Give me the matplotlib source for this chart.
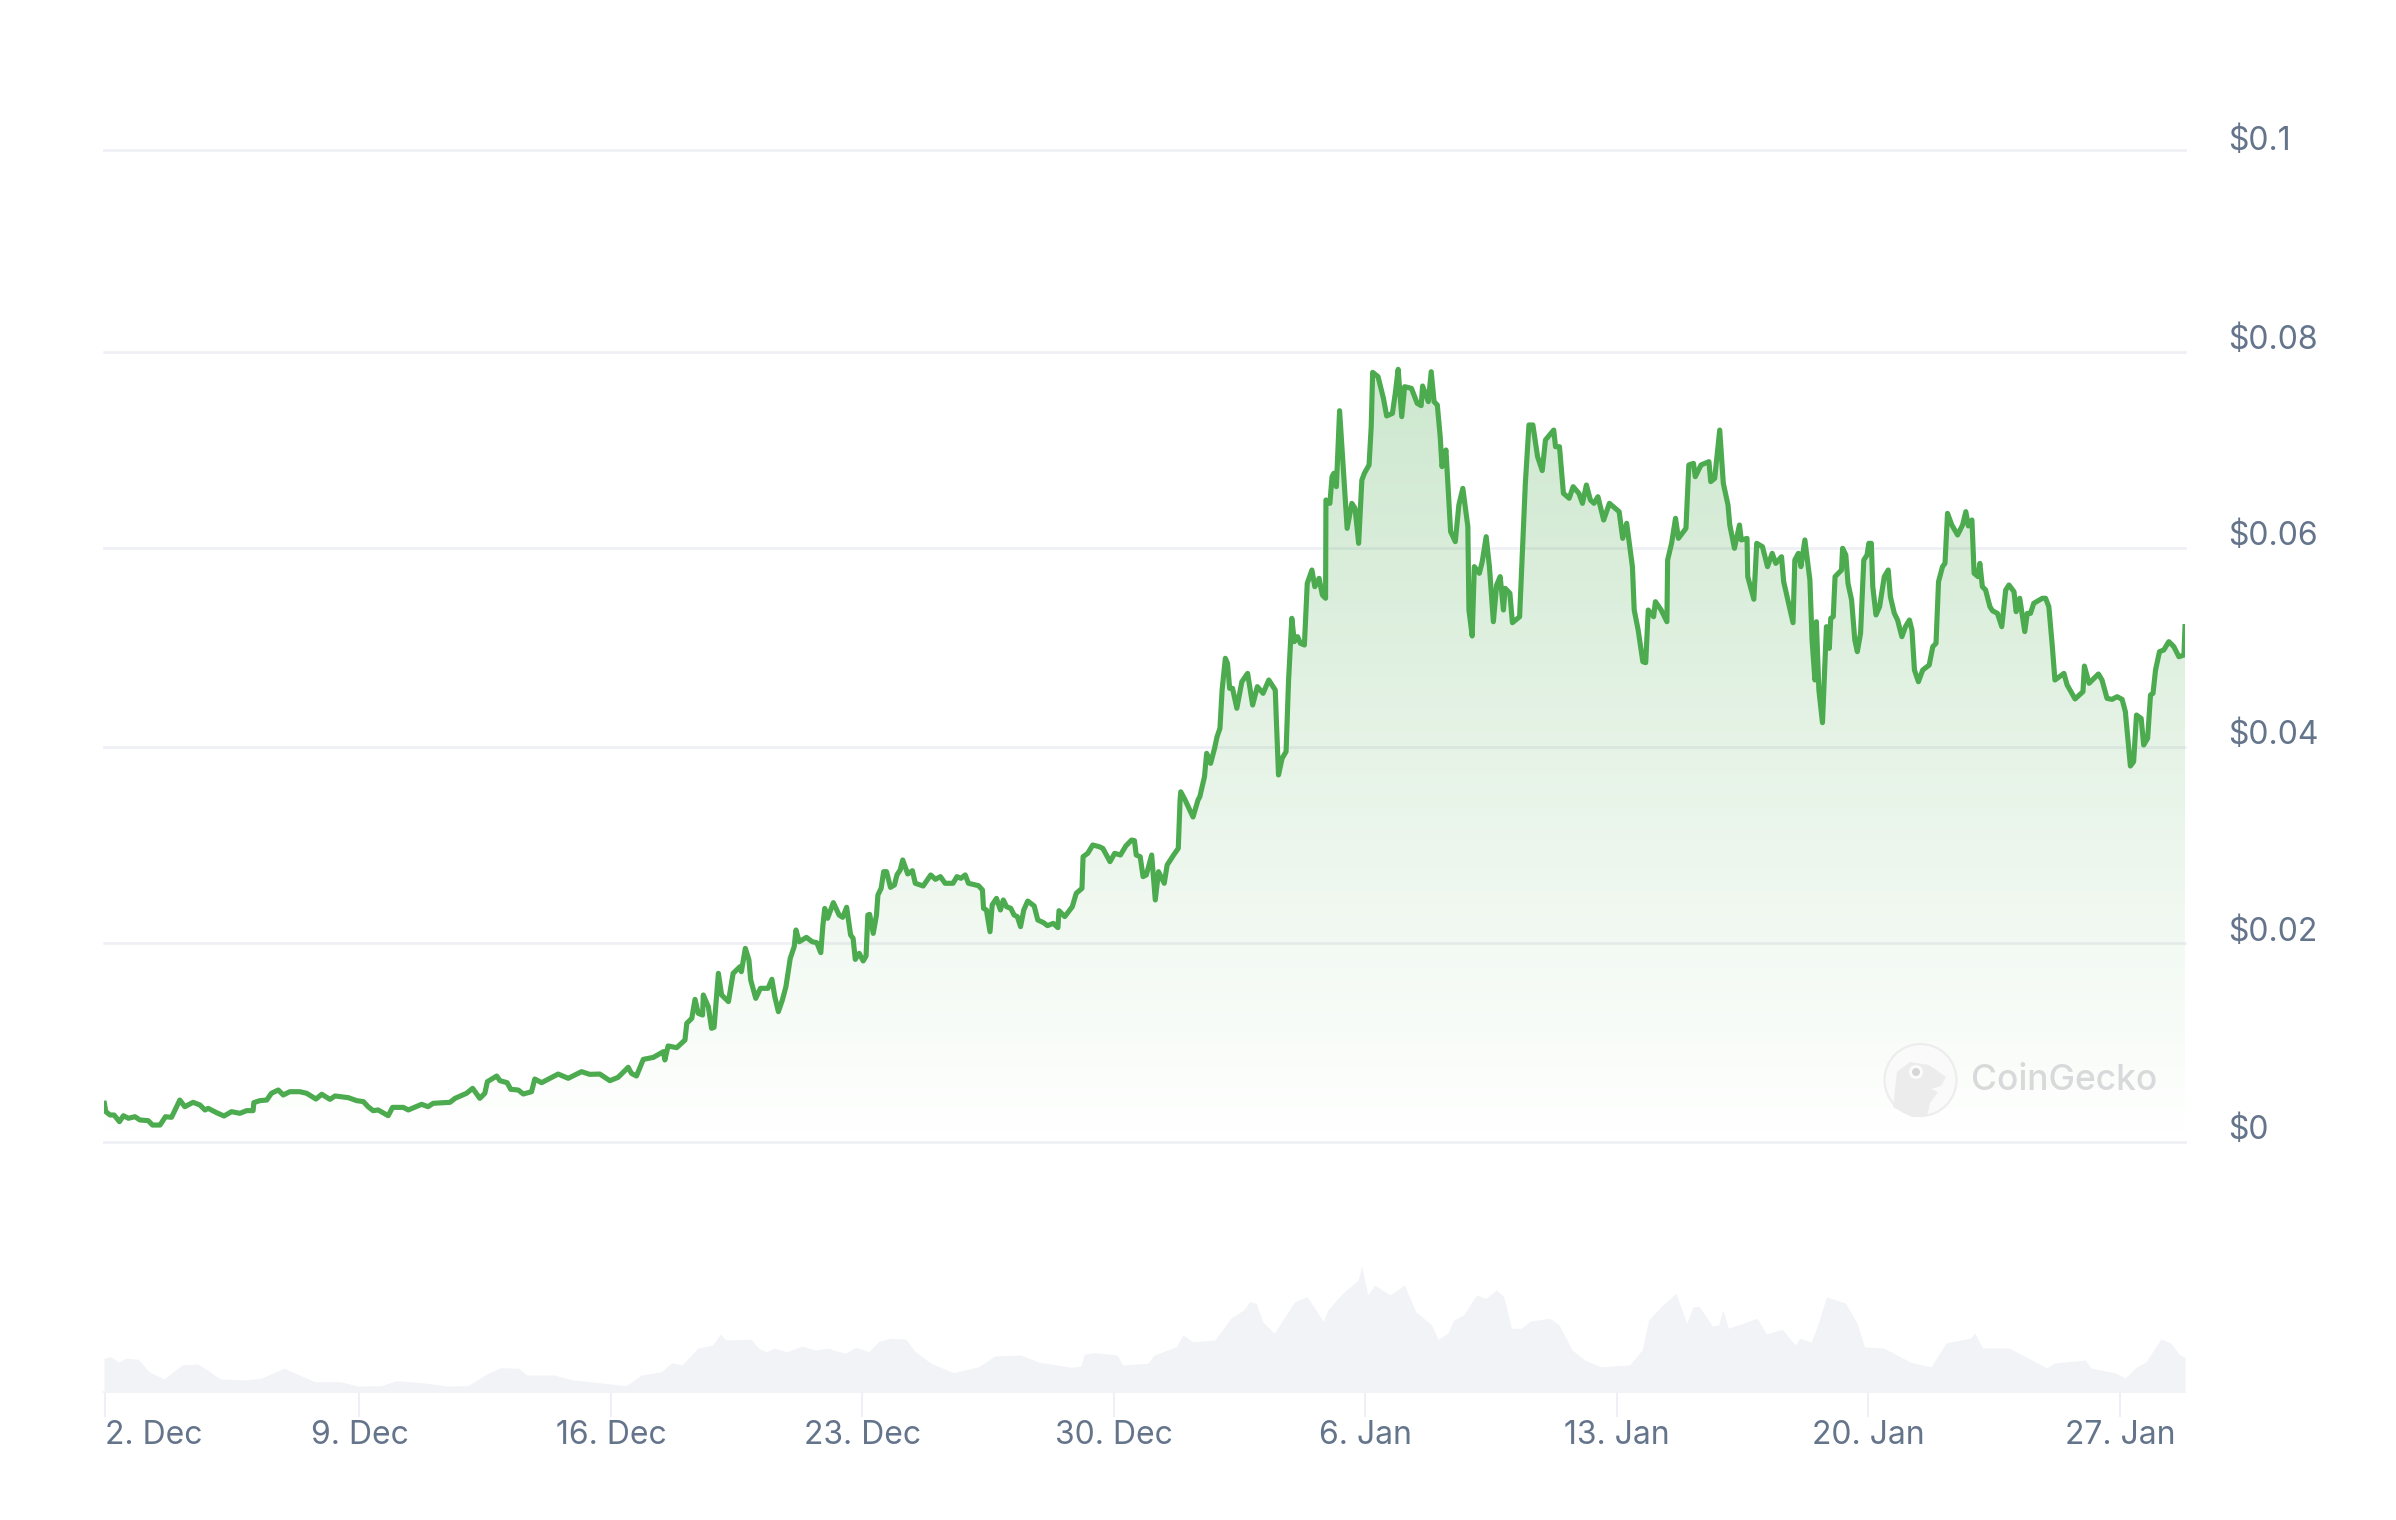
import matplotlib
matplotlib.use("Agg")
import matplotlib.pyplot as plt
import numpy as np
from matplotlib.patches import Circle, Polygon
from matplotlib.transforms import ScaledTranslation

plt.rcParams['font.family'] = ['Inter', 'DejaVu Sans']

# days after 2 Dec
days = [
    -0.10, -0.06, 0.06, 0.17, 0.32, 0.43, 0.57, 0.75, 0.89, 1.12, 1.24, 1.45, 1.60, 1.77, 2.00, 2.14, 2.37, 2.56, 2.70, 2.79,
    3.02, 3.23, 3.44, 3.67, 3.86, 4.04, 4.06, 4.23, 4.42, 4.55, 4.74, 4.88, 5.06, 5.34, 5.53, 5.79, 5.95, 6.18, 6.32, 6.69,
    6.92, 7.11, 7.24, 7.38, 7.52, 7.80, 7.92, 8.22, 8.36, 8.73, 8.91, 9.05, 9.52, 9.66, 9.98, 10.15, 10.35, 10.49, 10.56, 10.82,
    10.91, 11.11, 11.21, 11.42, 11.56, 11.79, 11.88, 12.07, 12.53, 12.81, 13.18, 13.41, 13.69, 13.97, 14.20, 14.48, 14.57, 14.71, 14.90, 15.18,
    15.46, 15.50, 15.59, 15.83, 16.06, 16.11, 16.25, 16.34, 16.43, 16.55, 16.57, 16.71, 16.80, 16.87, 16.99, 17.08, 17.27, 17.40, 17.59, 17.63,
    17.74, 17.84, 17.89, 18.03, 18.16, 18.37, 18.48, 18.56, 18.66, 18.77, 18.87, 18.99, 19.10, 19.15, 19.24, 19.44, 19.60, 19.73, 19.84, 19.90,
    19.95, 20.03, 20.19, 20.35, 20.45, 20.56, 20.67, 20.74, 20.80, 20.91, 21.02, 21.10, 21.15, 21.20, 21.30, 21.39, 21.43, 21.52, 21.59, 21.67,
    21.78, 21.89, 21.96, 22.05, 22.12, 22.26, 22.39, 22.47, 22.69, 22.90, 23.03, 23.17, 23.30, 23.52, 23.63, 23.74, 23.86, 23.95, 24.23, 24.34,
    24.37, 24.45, 24.55, 24.61, 24.73, 24.84, 24.92, 25.01, 25.13, 25.22, 25.31, 25.40, 25.49, 25.60, 25.78, 25.88, 26.04, 26.15, 26.31, 26.44,
    26.47, 26.63, 26.84, 26.95, 27.11, 27.14, 27.27, 27.41, 27.59, 27.69, 27.89, 28.02, 28.18, 28.33, 28.49, 28.57, 28.62, 28.73, 28.81, 28.90,
    29.05, 29.15, 29.24, 29.40, 29.48, 29.66, 29.79, 29.84, 29.86, 29.98, 30.20, 30.34, 30.39, 30.52, 30.58, 30.69, 30.80, 30.87, 30.95, 31.01,
    31.10, 31.16, 31.22, 31.30, 31.42, 31.56, 31.72, 31.86, 31.99, 32.15, 32.31, 32.49, 32.52, 32.58, 32.68, 32.79, 32.86, 32.95, 33.02, 33.11,
    33.19, 33.30, 33.38, 33.51, 33.59, 33.71, 33.80, 33.89, 33.90, 34.01, 34.07, 34.12, 34.19, 34.28, 34.38, 34.49, 34.62, 34.71, 34.81, 34.90,
    34.97, 35.10, 35.16, 35.20, 35.35, 35.50, 35.59, 35.75, 35.83, 35.91, 36.01, 36.09, 36.28, 36.44, 36.55, 36.59, 36.75, 36.83, 36.91, 37.00,
    37.08, 37.13, 37.24, 37.32, 37.37, 37.50, 37.60, 37.71, 37.85, 37.88, 37.97, 38.03, 38.17, 38.25, 38.36, 38.45, 38.56, 38.65, 38.75, 38.84,
    38.89, 39.02, 39.09, 39.29, 39.45, 39.55, 39.66, 39.79, 39.92, 40.01, 40.24, 40.29, 40.40, 40.51, 40.67, 40.78, 40.94, 41.04, 41.15, 41.26,
    41.36, 41.47, 41.63, 41.79, 42.06, 42.16, 42.27, 42.43, 42.48, 42.59, 42.72, 42.80, 42.87, 43.02, 43.07, 43.23, 43.39, 43.41, 43.52, 43.63,
    43.71, 43.92, 44.00, 44.13, 44.18, 44.34, 44.56, 44.61, 44.72, 44.86, 44.96, 45.09, 45.14, 45.27, 45.41, 45.46, 45.62, 45.64, 45.81, 45.89,
    46.05, 46.19, 46.32, 46.42, 46.58, 46.64, 46.90, 46.95, 47.05, 47.12, 47.23, 47.37, 47.43, 47.51, 47.55, 47.62, 47.72, 47.83, 47.91, 47.95,
    48.02, 48.07, 48.25, 48.28, 48.37, 48.43, 48.53, 48.62, 48.69, 48.78, 48.87, 48.96, 49.01, 49.08, 49.12, 49.21, 49.31, 49.44, 49.55, 49.61,
    49.72, 49.81, 49.93, 50.03, 50.14, 50.21, 50.28, 50.39, 50.51, 50.69, 50.79, 50.88, 50.95, 51.06, 51.13, 51.20, 51.32, 51.48, 51.62, 51.71,
    51.78, 51.88, 51.94, 52.05, 52.10, 52.17, 52.26, 52.38, 52.45, 52.59, 52.71, 52.82, 52.91, 53.05, 53.11, 53.21, 53.35, 53.42, 53.51, 53.60,
    53.84, 53.93, 54.02, 54.11, 54.19, 54.44, 54.53, 54.75, 54.97, 55.01, 55.14, 55.40, 55.50, 55.64, 55.78, 55.92, 56.06, 56.15, 56.29, 56.38,
    56.46, 56.59, 56.66, 56.77, 56.85, 56.92, 56.99, 57.10, 57.22, 57.36, 57.50, 57.64, 57.78, 57.81,
]

# price in thousandths of a dollar
price_milli = [
    3.90, 3.06, 2.72, 2.72, 2.05, 2.65, 2.39, 2.55, 2.22, 2.15, 1.71, 1.71, 2.55, 2.49, 4.23, 3.56, 4.00, 3.73, 3.23, 3.39,
    2.96, 2.62, 3.06, 2.89, 3.16, 3.16, 3.97, 4.17, 4.23, 4.91, 5.24, 4.74, 5.07, 5.07, 4.91, 4.33, 4.81, 4.30, 4.64, 4.47,
    4.17, 4.07, 3.56, 3.16, 3.23, 2.65, 3.49, 3.49, 3.23, 3.80, 3.56, 3.90, 4.00, 4.40, 4.91, 5.41, 4.40, 4.91, 6.08, 6.65,
    6.18, 5.98, 5.31, 5.24, 4.84, 5.07, 6.35, 5.98, 6.85, 6.42, 7.09, 6.82, 6.85, 6.18, 6.52, 7.53, 6.92, 6.65, 8.33, 8.53,
    9.11, 8.27, 9.68, 9.51, 10.28, 11.96, 12.47, 14.38, 12.97, 12.80, 14.82, 13.64, 11.46, 11.56, 17.00, 14.82, 14.15, 17.00, 17.67, 17.17,
    19.52, 18.35, 16.33, 14.48, 15.49, 15.49, 16.40, 14.65, 13.14, 14.31, 15.66, 18.51, 19.69, 21.37, 20.19, 20.63, 20.19, 20.09, 19.09, 21.88,
    23.55, 22.55, 24.13, 22.88, 22.65, 23.66, 20.87, 20.53, 18.41, 19.02, 18.25, 18.75, 22.88, 22.95, 21.03, 22.88, 24.90, 25.57, 27.25, 27.25,
    25.67, 25.91, 26.92, 27.42, 28.43, 27.02, 27.35, 26.08, 25.81, 26.92, 26.48, 26.75, 26.08, 26.08, 26.75, 26.58, 26.92, 26.08, 25.84, 25.40,
    23.55, 23.39, 21.20, 23.89, 24.56, 23.39, 24.40, 23.72, 23.55, 22.88, 22.72, 21.71, 23.39, 24.29, 23.79, 22.38, 22.11, 21.81, 22.04, 21.61,
    23.32, 22.72, 23.72, 25.07, 25.57, 28.76, 29.10, 29.94, 29.77, 29.60, 28.26, 29.10, 28.93, 29.84, 30.44, 30.38, 28.93, 28.76, 26.75, 26.92,
    28.93, 24.40, 27.25, 26.08, 27.92, 28.93, 29.60, 34.48, 35.30, 34.48, 32.76, 34.48, 34.81, 36.83, 39.18, 38.17, 39.68, 40.86, 41.70, 45.56,
    48.76, 48.25, 45.73, 45.73, 43.72, 46.40, 47.24, 44.05, 45.90, 45.23, 46.57, 45.56, 42.54, 37.00, 38.68, 39.35, 46.57, 52.79, 50.44, 50.94,
    50.27, 50.10, 56.32, 57.66, 55.98, 56.82, 55.14, 54.81, 64.72, 64.38, 67.07, 67.41, 66.06, 73.72, 68.08, 61.86, 64.38, 63.88, 60.35, 66.73,
    67.41, 68.25, 72.11, 77.59, 77.15, 74.97, 73.19, 73.45, 75.47, 77.89, 73.12, 76.14, 75.97, 74.46, 74.23, 76.21, 74.63, 77.65, 74.63, 74.29,
    71.10, 68.08, 69.76, 64.72, 61.53, 60.52, 64.22, 65.89, 62.03, 53.63, 51.01, 58.00, 57.33, 58.50, 61.02, 58.00, 52.45, 56.15, 56.99, 53.63,
    55.81, 55.31, 52.35, 52.95, 66.40, 72.28, 72.28, 69.09, 67.68, 70.77, 71.77, 70.09, 70.09, 65.39, 64.89, 66.06, 65.39, 64.38, 66.23, 64.72,
    64.38, 65.05, 62.70, 64.38, 63.54, 60.85, 62.37, 58.00, 53.63, 51.61, 48.42, 48.32, 53.63, 52.95, 54.47, 53.63, 52.45, 58.67, 60.35, 62.87,
    60.85, 61.86, 68.25, 68.41, 67.07, 68.25, 68.58, 66.57, 66.90, 71.77, 66.40, 64.22, 62.20, 59.85, 62.20, 60.69, 60.85, 56.99, 54.71, 60.35,
    60.01, 58.00, 59.34, 58.33, 59.00, 56.49, 52.35, 58.67, 59.34, 58.00, 60.69, 56.65, 50.60, 46.57, 52.45, 45.56, 42.27, 51.95, 49.76, 52.79,
    52.96, 56.99, 57.66, 59.85, 59.17, 56.32, 54.64, 50.60, 49.43, 51.28, 58.67, 59.17, 60.35, 60.35, 55.98, 53.13, 53.97, 56.99, 57.66, 54.97,
    53.29, 52.62, 50.94, 51.95, 52.62, 51.61, 47.58, 46.40, 47.58, 48.08, 49.93, 50.27, 56.48, 57.99, 58.33, 63.37, 62.20, 61.19, 62.20, 63.54,
    62.10, 62.70, 57.33, 56.99, 58.33, 55.98, 55.65, 53.97, 53.56, 53.29, 51.95, 55.65, 56.15, 55.48, 53.46, 54.81, 51.45, 53.29, 53.29, 54.30,
    54.81, 54.81, 53.97, 50.27, 46.57, 47.24, 46.07, 44.66, 45.40, 47.98, 46.24, 47.18, 46.57, 44.72, 44.62, 44.89, 44.62, 43.38, 37.90, 38.34,
    43.04, 42.70, 40.02, 40.69, 45.06, 45.23, 47.58, 49.43, 49.60, 50.44, 49.93, 48.92, 49.09, 51.95,
]

vol_days = [
    -0.11, 0.07, 0.29, 0.50, 0.85, 1.14, 1.56, 2.06, 2.49, 2.77, 3.13, 3.77, 4.26, 4.90, 5.33, 5.75, 6.47, 6.96, 7.60, 8.03,
    8.74, 9.45, 10.01, 10.58, 10.94, 11.44, 11.65, 12.43, 12.93, 13.42, 14.42, 14.85, 15.41, 15.69, 15.98, 16.41, 16.83, 17.05, 17.19, 17.90,
    18.11, 18.32, 18.54, 18.89, 19.32, 19.68, 20.03, 20.53, 20.81, 21.17, 21.45, 21.76, 22.20, 22.47, 22.91, 23.53, 24.24, 24.68, 25.39, 25.93,
    26.81, 27.08, 27.17, 27.44, 28.09, 28.24, 28.94, 29.12, 29.74, 29.92, 30.19, 30.81, 31.25, 31.61, 31.78, 31.96, 32.14, 32.46, 33.03, 33.38,
    33.83, 33.95, 34.36, 34.80, 34.89, 35.07, 35.25, 35.69, 36.08, 36.40, 36.84, 37.02, 37.29, 37.46, 37.73, 38.09, 38.35, 38.65, 38.85, 39.06,
    39.33, 39.60, 40.13, 40.39, 40.75, 41.10, 41.55, 42.35, 42.70, 42.88, 43.23, 43.64, 43.94, 44.12, 44.30, 44.65, 44.83, 44.95, 45.10, 45.90,
    46.16, 46.60, 46.96, 47.09, 47.41, 47.57, 47.83, 48.36, 48.68, 48.89, 49.42, 50.16, 50.74, 51.16, 51.85, 51.96, 52.17, 52.91, 53.97, 54.18,
    55.03, 55.19, 55.87, 56.14, 56.46, 56.72, 57.14, 57.41, 57.67, 57.81,
]

volume = [
    33.7, 35.3, 30, 33.7, 32.7, 20.3, 13, 27, 28, 22, 13, 12, 13.7, 23.7, 17, 10.3, 10.3, 6, 6.3, 11.3,
    9.3, 6, 6.3, 18.7, 24.3, 23.7, 17, 17, 12, 10.3, 6.3, 17, 20.3, 29.3, 27, 43.7, 47, 58, 52, 52.7,
    43.7, 40.3, 43.7, 40.3, 46, 42, 43.7, 38.7, 44.7, 40.3, 50.3, 53.7, 53, 40.3, 28.7, 19.3, 25.3, 36, 37, 29.7,
    24.7, 26, 37.7, 39.3, 37, 27, 28.7, 37, 45.3, 57, 50.3, 52, 73.7, 82, 90.3, 88.7, 70.3, 58.7, 90.3, 95.3,
    70.3, 82, 98.7, 112, 126, 97, 107, 97, 107, 80.3, 67, 52.7, 58.7, 72, 77, 97, 93.7, 102, 95.3, 63.7,
    63.7, 71, 73.7, 67, 42, 32, 25.3, 27, 42, 72, 85.3, 98.7, 68.7, 85.3, 85.3, 66, 67, 82, 63.7, 73.7,
    58, 62.7, 47, 53.7, 50, 65, 95, 89, 69, 45, 44, 30, 25, 49, 54, 59, 44, 44, 24, 29,
    32, 24, 19, 14, 25, 30, 53, 49, 37, 35,
]

tick_days = [-0.07, 7, 14, 21, 28, 35, 42, 49, 56]
tick_labels = ["2. Dec", "9. Dec", "16. Dec", "23. Dec", "30. Dec", "6. Jan", "13. Jan", "20. Jan", "27. Jan"]
price_ticks = [0, 0.02006, 0.03982, 0.05988, 0.07964, 0.1]
price_labels = ["$0", "$0.02", "$0.04", "$0.06", "$0.08", "$0.1"]

W, H = 2396, 1520
LEFT, RIGHT = 104, 2185
GREEN = "#4caa4f"
GRID = "#eff0f5"
TEXT = "#64748b"

price = np.array(price_milli) / 1000

fig = plt.figure(figsize=(W / 100, H / 100), dpi=100, facecolor="white")

# price panel
ax = fig.add_axes([LEFT / W, 1 - 1142 / H, (RIGHT - LEFT) / W, 992 / H])
ax.set_xlim(-0.11, 57.81)
ax.set_ylim(0, 0.1)
for y in price_ticks:
    ax.axhline(y, color=GRID, lw=1.9, zorder=1, clip_on=False)

# gradient under the line, strongest at the top of the series
area = ax.fill_between(days, price, 0, color="none", lw=0)
top = price.max()
grad = np.zeros((256, 2, 4))
grad[..., 0] = 76 / 255
grad[..., 1] = 170 / 255
grad[..., 2] = 80 / 255
grad[..., 3] = np.linspace(0, 0.28, 256)[:, None]
im = ax.imshow(grad, extent=[-0.11, 57.81, 0, top], origin="lower", aspect="auto", zorder=2)
im.set_clip_path(area.get_paths()[0], transform=ax.transData)
ax.set_xlim(-0.11, 57.81)
ax.set_ylim(0, 0.1)

ax.plot(days, price, color=GREEN, lw=3.7, zorder=3, solid_joinstyle="round")

ax.yaxis.tick_right()
ax.set_yticks(price_ticks, price_labels)
ax.tick_params(axis="y", length=0, pad=31, labelsize=23, labelcolor=TEXT)
ax.set_xticks([])
for s in ax.spines.values():
    s.set_visible(False)
ax.patch.set_alpha(0)
for t, lab in zip(ax.yaxis.get_ticklabels(), price_labels):
    # the top label sits lower on its gridline than the rest
    up_px = -0.5 if lab == "$0.1" else 2.5
    t.set_va("baseline")
    t.set_transform(t.get_transform() + ScaledTranslation(0, up_px / 100, fig.dpi_scale_trans))

# volume panel
vol_ax = fig.add_axes([LEFT / W, 1 - 1392 / H, (RIGHT - LEFT) / W, 126 / H])
vol_ax.fill_between(vol_days, volume, 0, color="#f2f3f7", lw=0)
vol_ax.set_xlim(-0.11, 57.81)
vol_ax.set_ylim(0, 126)
vol_ax.set_yticks([])
vol_ax.set_xticks(tick_days, tick_labels)
vol_ax.tick_params(axis="x", length=18, width=1.4, color=GRID, pad=2, labelsize=23, labelcolor=TEXT)
vol_ax.get_xticklabels()[0].set_ha("left")
for name, s in vol_ax.spines.items():
    s.set_visible(name == "bottom")
vol_ax.spines["bottom"].set_color("#f2f3f7")
vol_ax.spines["bottom"].set_linewidth(1.4)
vol_ax.patch.set_alpha(0)

# CoinGecko watermark, in pixel coordinates
logo = fig.add_axes([0, 0, 1, 1], zorder=5)
logo.set_xlim(0, W)
logo.set_ylim(H, 0)
logo.axis("off")
logo.add_patch(Circle((1920.5, 1080), 36, facecolor="#fafafa", edgecolor="#ececec", lw=1.6, alpha=0.9))
logo.add_patch(Polygon([(1893, 1107), (1897, 1072), (1910, 1062), (1929, 1065), (1946, 1077), (1941, 1086),
                        (1931, 1089), (1938, 1092), (1930, 1103), (1927, 1116), (1912, 1117)],
                       closed=True, facecolor="#ececec", edgecolor="none"))
logo.add_patch(Circle((1916, 1072), 7, facecolor="#fbfbfb", edgecolor="none"))
logo.add_patch(Circle((1916, 1072), 4, facecolor="#d6d6d6", edgecolor="none"))
logo.text(1971, 1081, "CoinGecko", fontsize=25.5, fontweight="medium", color="#d8d9da", va="center", ha="left")

fig.savefig("out.png", dpi=100)
